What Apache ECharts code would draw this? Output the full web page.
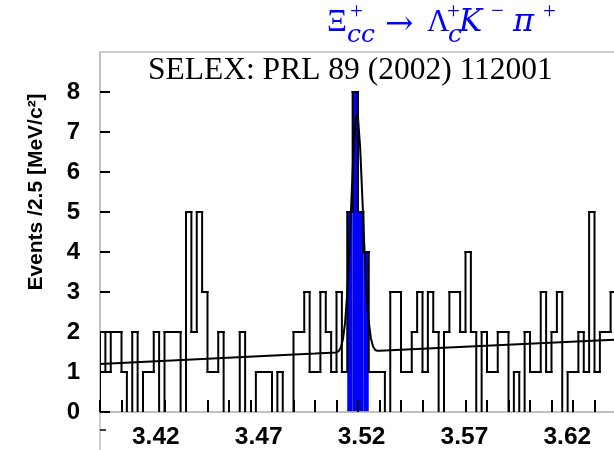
<!DOCTYPE html>
<html><head><meta charset="utf-8">
<script src="https://cdn.jsdelivr.net/npm/echarts@6/dist/echarts.min.js"></script>
<style>html,body{margin:0;padding:0;background:#fff;}#c{width:614px;height:450px;}</style>
</head><body><div id="c"></div>
<script>
// ---- data ----
const binStart = 3.40;          // GeV/c^2, lower edge of first bin
const binWidth = 0.0025;        // 2.5 MeV bins
const counts = [
  2,1,2,2,1,0,2,0,1,1,2,0,2,2,2,0,
  5,2,5,3,1,1,2,0,0,0,2,0,0,1,1,1,
  0,1,0,0,2,2,3,1,1,3,2,1,3,1,
  5,8,5,4,
  1,1,1,0,3,3,1,1,2,3,1,3,2,0,2,3,
  3,2,4,2,0,2,1,1,2,2,0,1,0,2,1,1,
  3,1,2,3,0,1,1,2,1,5,1,2,2,3
];
const signalLo = 3.515, signalHi = 3.525;
const fitMass  = [3.400,3.500,3.510,3.511,3.512,3.513,3.514,3.515,3.516,3.517,3.518,3.519,3.5195,3.520,3.521,3.522,3.523,3.524,3.525,3.526,3.527,3.528,3.529,3.530,3.640];
const fitValue = [1.20, 1.46, 1.49, 1.52, 1.61, 1.82, 2.24, 2.97, 4.07, 5.38, 6.60, 7.35, 7.45,  7.36, 6.61, 5.39, 4.08, 2.99, 2.26, 1.84, 1.64, 1.55, 1.53, 1.53, 1.81];
const xTicks = [3.40,3.41,3.42,3.43,3.44,3.45,3.46,3.47,3.48,3.49,3.50,3.51,3.52,3.53,3.54,3.55,3.56,3.57,3.58,3.59,3.60,3.61,3.62,3.63,3.64];
const xTickLabels = [3.42,3.47,3.52,3.57,3.62];
const yTickLabels = [0,1,2,3,4,5,6,7,8];

const blue = '#0000ff';
const histData = counts.map((c,i)=>[binStart+i*binWidth, c, i===0?0:counts[i-1]]);

const chart = echarts.init(document.getElementById('c'), null, {renderer:'canvas'});
const lineStyle = {stroke:'#000', lineWidth:2, lineCap:'square'};
const sans = '"Liberation Sans", Arial, sans-serif';
const serif = '"Liberation Serif", "Times New Roman", serif';
const math = '"DejaVu Serif", serif';

chart.setOption({
  animation:false,
  grid:{left:100, top:52, width:516, height:360, outerBoundsMode:'none', containLabel:false,
        show:true, borderColor:'#bdbdbd', borderWidth:1.5, backgroundColor:'transparent'},
  xAxis:[{
    type:'value', min:3.40, max:3.64, z:3,
    axisLine:{show:true, onZero:false, lineStyle:{color:'#bdbdbd', width:1.5}},
    axisTick:{show:true, inside:true, length:12, customValues:xTicks, lineStyle:{color:'#000', width:2}},
    axisLabel:{show:false},
    splitLine:{show:false}
  },{
    // label scale of the printed figure (labels are set slightly narrower than the tick scale)
    type:'value', min:3.39288, max:3.64367, position:'bottom',
    axisLine:{show:false}, axisTick:{show:false}, splitLine:{show:false},
    axisLabel:{show:true, customValues:xTickLabels, formatter:v=>v.toFixed(2), margin:13,
      fontFamily:sans, fontWeight:'bold', fontSize:24.5, color:'#000'}
  }],
  yAxis:{
    type:'value', min:0, max:9, z:3,
    axisLine:{show:true, lineStyle:{color:'#bdbdbd', width:1.5}},
    axisTick:{show:true, inside:true, length:10, customValues:yTickLabels, lineStyle:{color:'#000', width:2}},
    axisLabel:{show:true, customValues:yTickLabels, margin:20,
      fontFamily:sans, fontWeight:'bold', fontSize:24, color:'#000'},
    splitLine:{show:false}
  },
  series:[
    { // signal fill
      type:'custom', z:2, silent:true, clip:true,
      data:histData, encode:{x:0,y:1},
      renderItem:(params, api)=>{
        const lo = api.value(0), c = api.value(1);
        if (lo < signalLo - 1e-9 || lo + binWidth > signalHi + 1e-9 || c <= 0) return null;
        const a = api.coord([lo,0]), b = api.coord([lo+binWidth,c]);
        return {type:'rect', shape:{x:a[0], y:b[1], width:b[0]-a[0], height:a[1]-b[1]}, style:{fill:blue}};
      }
    },
    { // histogram outline
      type:'custom', z:4, silent:true, clip:true,
      data:histData, encode:{x:0,y:1},
      renderItem:(params, api)=>{
        const lo = api.value(0), c = api.value(1), prev = api.value(2);
        const a = api.coord([lo,c]), b = api.coord([lo+binWidth,c]), p = api.coord([lo,prev]);
        const ch = [];
        if (prev !== c) ch.push({type:'line', shape:{x1:a[0], y1:p[1], x2:a[0], y2:a[1]}, style:lineStyle});
        if (c > 0) ch.push({type:'line', shape:{x1:a[0], y1:a[1], x2:b[0], y2:b[1]}, style:lineStyle});
        return {type:'group', children:ch};
      }
    },
    { // fit
      type:'line', z:5, silent:true, showSymbol:false, smooth:false,
      data:fitMass.map((m,i)=>[m, fitValue[i]]),
      lineStyle:{color:'#000', width:2}
    }
  ],
  graphic:[
    {type:'line', shape:{x1:100, y1:412, x2:100, y2:452}, style:{stroke:'#bdbdbd', lineWidth:1.5}, z:0},
    {type:'line', shape:{x1:100, y1:430, x2:106, y2:430}, style:{stroke:'#000', lineWidth:1.5}, z:0},
    {type:'text', x:36, y:192, rotation:Math.PI/2, style:{text:'Events /2.5 [MeV/c²]', font:'bold 21px '+sans, fill:'#000', textAlign:'center', verticalAlign:'middle'}},
    {type:'text', x:148, y:71, style:{text:'SELEX: PRL 89 (2002) 112001', font:'31.5px '+serif, fill:'#000', textAlign:'left', verticalAlign:'middle'}},
    {type:'text', x:327, y:23, style:{text:'Ξ', font:'31px '+serif, fill:blue, verticalAlign:'middle'}},
    {type:'text', x:347, y:35, style:{text:'cc', font:'italic 25px '+math, fill:blue, verticalAlign:'middle'}},
    {type:'text', x:350, y:12, style:{text:'+', font:'23px '+serif, fill:blue, verticalAlign:'middle'}},
    {type:'text', x:385, y:25, style:{text:'→', font:'34px '+math, fill:blue, verticalAlign:'middle'}},
    {type:'text', x:427, y:23, style:{text:'Λ', font:'31px '+serif, fill:blue, verticalAlign:'middle'}},
    {type:'text', x:448, y:35, style:{text:'c', font:'italic 25px '+math, fill:blue, verticalAlign:'middle'}},
    {type:'text', x:447, y:12, style:{text:'+', font:'23px '+serif, fill:blue, verticalAlign:'middle'}},
    {type:'text', x:459, y:23, style:{text:'K', font:'italic 31px '+math, fill:blue, verticalAlign:'middle'}},
    {type:'text', x:491, y:12, style:{text:'−', font:'23px '+serif, fill:blue, verticalAlign:'middle'}},
    {type:'text', x:513, y:23, style:{text:'π', font:'italic 32px '+math, fill:blue, verticalAlign:'middle'}},
    {type:'text', x:543, y:12, style:{text:'+', font:'23px '+serif, fill:blue, verticalAlign:'middle'}}
  ]
});
</script></body></html>
